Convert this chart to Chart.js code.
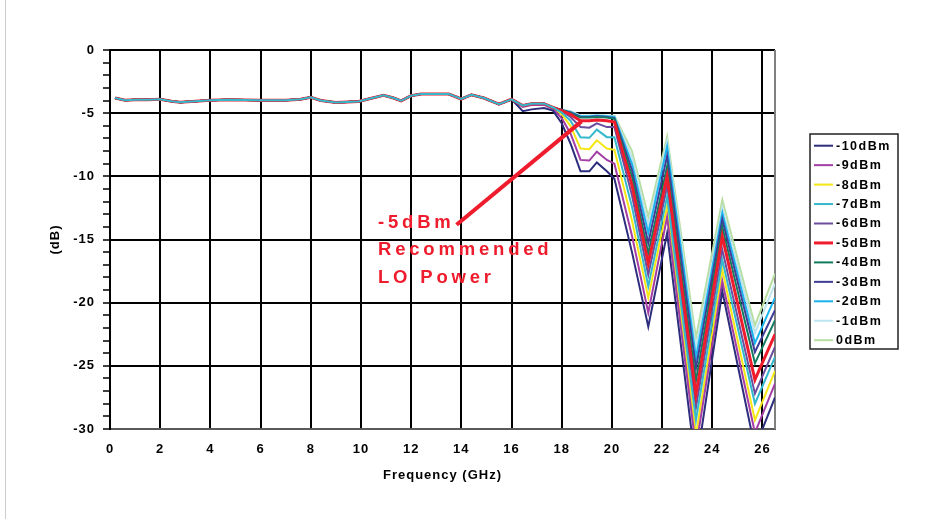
<!DOCTYPE html>
<html lang="en">
<head>
<meta charset="UTF-8">
<title>Conversion loss vs LO power</title>
<script src="https://cdn.jsdelivr.net/npm/chart.js@4.4.1/dist/chart.umd.min.js"></script>
<style>
  html, body { margin: 0; padding: 0; background: #fff; }
  .frame { position: relative; width: 935px; height: 519px; }
  .frame::before { content: ""; position: absolute; left: 5px; top: 0; bottom: 0; border-left: 1px solid #cdcdcd; }
  canvas { display: block; }
</style>
</head>
<body>
<div class="frame"><canvas id="chart"></canvas></div>
<script>
// flat part, all LO levels sit on top of each other here
const lowFreq = [0.2, 0.6, 1.0, 1.5, 2.0, 2.45, 2.8, 3.4, 4.0, 4.7, 5.4, 6.0, 6.5, 7.0, 7.6, 8.0, 8.4, 9.0, 9.9, 10.3, 10.9, 11.3, 11.6, 12.0, 12.4, 13.5, 14.0, 14.4, 14.9, 15.5, 16.0];
const lowLoss = [-3.8, -3.98, -3.93, -3.93, -3.9, -4.05, -4.13, -4.05, -3.98, -3.93, -3.96, -3.98, -3.97, -3.97, -3.9, -3.74, -4.0, -4.15, -4.07, -3.88, -3.59, -3.8, -4.02, -3.62, -3.49, -3.49, -3.88, -3.54, -3.8, -4.28, -3.9];

// upper band, one array per LO level
const highFreq = [16.45, 16.8, 17.3, 17.65, 18.0, 18.35, 18.75, 19.1, 19.4, 19.8, 20.1, 20.8, 21.45, 22.2, 23.35, 24.4, 25.7, 26.5];
const lossM10 = [-4.85, -4.7, -4.6, -4.8, -5.8, -7.4, -9.6, -9.6, -8.9, -9.6, -10.2, -16.0, -21.9, -14.5, -33.0, -19.1, -31.5, -27.5];
const lossM9  = [-4.5, -4.35, -4.35, -4.65, -5.4, -6.6, -8.7, -8.75, -8.05, -8.7, -9.0, -14.7, -20.8, -13.2, -31.5, -18.3, -30.3, -26.4];
const lossM8  = [-4.4, -4.25, -4.25, -4.55, -5.1, -6.0, -7.8, -7.85, -7.15, -7.8, -7.9, -13.5, -19.6, -12.4, -30.5, -17.4, -29.3, -25.4];
const lossM7  = [-4.4, -4.25, -4.25, -4.55, -4.95, -5.6, -6.9, -6.95, -6.3, -6.9, -6.9, -12.4, -18.7, -11.6, -29.3, -16.6, -28.0, -24.3];
const lossM6  = [-4.4, -4.25, -4.25, -4.55, -4.85, -5.3, -6.1, -6.15, -5.8, -6.1, -6.1, -11.5, -17.8, -10.8, -28.3, -15.8, -27.2, -23.5];
const lossM5  = [-4.4, -4.25, -4.25, -4.55, -4.8, -5.1, -5.6, -5.6, -5.55, -5.6, -5.7, -10.7, -16.9, -10.0, -27.3, -14.75, -26.1, -22.5];
const lossM4  = [-4.4, -4.25, -4.25, -4.55, -4.75, -5.0, -5.35, -5.35, -5.3, -5.35, -5.45, -10.0, -16.1, -9.2, -26.2, -14.0, -24.8, -21.4];
const lossM3  = [-4.4, -4.25, -4.25, -4.55, -4.75, -4.95, -5.3, -5.3, -5.25, -5.3, -5.4, -9.5, -15.3, -8.4, -25.2, -13.4, -23.9, -20.6];
const lossM2  = [-4.4, -4.25, -4.25, -4.55, -4.75, -4.9, -5.25, -5.25, -5.2, -5.25, -5.3, -9.0, -14.5, -7.65, -24.4, -12.9, -23.2, -19.6];
const lossM1  = [-4.4, -4.25, -4.25, -4.55, -4.75, -4.85, -5.2, -5.2, -5.15, -5.2, -5.25, -8.5, -13.9, -7.25, -23.6, -12.5, -22.4, -18.5];
const loss0   = [-4.4, -4.25, -4.25, -4.55, -4.75, -4.85, -5.2, -5.2, -5.15, -5.2, -5.2, -8.0, -13.2, -6.85, -22.8, -11.85, -21.8, -17.7];

const loLevels = ['-10dBm', '-9dBm', '-8dBm', '-7dBm', '-6dBm', '-5dBm', '-4dBm', '-3dBm', '-2dBm', '-1dBm', '0dBm'];
const highLoss = [lossM10, lossM9, lossM8, lossM7, lossM6, lossM5, lossM4, lossM3, lossM2, lossM1, loss0];

const yTicks = [0, -5, -10, -15, -20, -25, -30];
const xTicks = [0, 2, 4, 6, 8, 10, 12, 14, 16, 18, 20, 22, 24, 26];

const noteLines = ['-5dBm', 'Recommended', 'LO Power'];
const noteText = [10.68, -14.09];       // where the note text starts (GHz, dB)
const noteArrow = [[13.81, -13.83], [18.79, -5.65]];

const lineColors = ['#2d2d7e', '#a43da6', '#f5e615', '#34b8cc', '#6b4c9e', '#ee1c2c',
                    '#127a5e', '#3f3d98', '#19b4ee', '#bde4ef', '#b8dea2'];
const FONT = '"Liberation Sans", Arial, sans-serif';

const datasets = loLevels.map((name, i) => {
    const pts = lowFreq.map((f, k) => ({x: f, y: lowLoss[k]}))
        .concat(highFreq.map((f, k) => ({x: f, y: highLoss[i][k]})));
    let order = 2;
    if (name === '-7dBm') order = 0;
    if (name === '-5dBm') order = 1;
    return {
        label: name,
        data: pts,
        borderColor: lineColors[i],
        backgroundColor: lineColors[i],
        borderWidth: name === '-5dBm' ? 3 : 2,
        pointRadius: 0,
        tension: 0,
        order: order
    };
});

// old excel-ish wide text
const spacing = {
    id: 'spacing',
    beforeLayout(chart) { chart.ctx.letterSpacing = '1px'; },
    beforeDraw(chart) { chart.ctx.letterSpacing = '1px'; }
};

const plotFrame = {
    id: 'plotFrame',
    beforeDatasetsDraw(chart) {
        const {ctx, chartArea} = chart;
        ctx.save();
        ctx.strokeStyle = '#808080';
        ctx.lineWidth = 2;
        ctx.beginPath();
        ctx.moveTo(chartArea.right, chartArea.top);
        ctx.lineTo(chartArea.right, chartArea.bottom);
        ctx.stroke();
        ctx.restore();
    }
};

const loNote = {
    id: 'loNote',
    afterDatasetsDraw(chart) {
        const {ctx, scales: {x, y}} = chart;
        ctx.save();
        ctx.strokeStyle = '#ee1c2c';
        ctx.lineWidth = 4;
        ctx.beginPath();
        ctx.moveTo(x.getPixelForValue(noteArrow[0][0]), y.getPixelForValue(noteArrow[0][1]));
        ctx.lineTo(x.getPixelForValue(noteArrow[1][0]), y.getPixelForValue(noteArrow[1][1]));
        ctx.stroke();
        ctx.fillStyle = '#ee1c2c';
        ctx.font = 'bold 18.5px ' + FONT;
        ctx.letterSpacing = '3.8px';
        ctx.textAlign = 'left';
        ctx.textBaseline = 'alphabetic';
        const tx = x.getPixelForValue(noteText[0]);
        const ty = y.getPixelForValue(noteText[1]);
        noteLines.forEach((t, i) => ctx.fillText(t, tx, ty + i * 27.4));
        ctx.restore();
    }
};

const sideLegend = {
    id: 'sideLegend',
    afterDraw(chart) {
        const {ctx, chartArea} = chart;
        const left = chartArea.right + 35;
        const top = 134, w = 88, h = 215, rowH = 19.45;
        ctx.save();
        ctx.strokeStyle = '#222';
        ctx.lineWidth = 1.5;
        ctx.strokeRect(left, top, w, h);
        ctx.font = 'bold 12.5px ' + FONT;
        ctx.letterSpacing = '1.5px';
        ctx.textAlign = 'left';
        ctx.textBaseline = 'middle';
        chart.data.datasets.forEach((ds, i) => {
            const yy = top + 11.7 + i * rowH;
            ctx.strokeStyle = ds.borderColor;
            ctx.lineWidth = ds.borderWidth;
            ctx.beginPath();
            ctx.moveTo(left + 4, yy);
            ctx.lineTo(left + 23, yy);
            ctx.stroke();
            ctx.fillStyle = '#000';
            ctx.fillText(ds.label, left + 26, yy + 0.5);
        });
        ctx.restore();
    }
};

new Chart(document.getElementById('chart'), {
    type: 'line',
    data: { datasets: datasets },
    options: {
        responsive: true,
        maintainAspectRatio: false,
        animation: false,
        layout: { padding: { left: 48, right: 160, top: 50, bottom: 36 } },
        plugins: { legend: { display: false }, tooltip: { enabled: false } },
        scales: {
            x: {
                type: 'linear',
                min: 0,
                max: 26.5,
                afterFit(scale) { scale.height = 54; },
                afterBuildTicks(scale) { scale.ticks = xTicks.map(v => ({value: v})); },
                ticks: {
                    autoSkip: false,
                    padding: 13,
                    color: '#000',
                    font: { family: FONT, size: 13, weight: 'bold' }
                },
                grid: { color: '#000', lineWidth: 2, drawTicks: false },
                border: { color: '#5a5a5a', width: 2 },
                title: {
                    display: true,
                    text: 'Frequency (GHz)',
                    color: '#000',
                    padding: { top: 4, bottom: 0 },
                    font: { family: FONT, size: 13, weight: 'bold' }
                }
            },
            y: {
                min: -30,
                max: 0,
                afterFit(scale) { scale.width = 62; },
                ticks: {
                    autoSkip: false,
                    stepSize: 1,
                    padding: 8,
                    color: '#000',
                    font: { family: FONT, size: 13, weight: 'bold' },
                    callback: v => yTicks.includes(v) ? String(v) : ''
                },
                grid: {
                    lineWidth: 2,
                    tickLength: 7,
                    tickWidth: 1.5,
                    tickColor: '#000',
                    color: c => {
                        if (!c.tick) return 'rgba(0,0,0,0)';
                        if (c.tick.value === -30) return '#5a5a5a';
                        return yTicks.includes(c.tick.value) ? '#000' : 'rgba(0,0,0,0)';
                    }
                },
                border: { color: '#000', width: 2 },
                title: {
                    display: true,
                    text: '(dB)',
                    color: '#000',
                    padding: { top: 0, bottom: 4 },
                    font: { family: FONT, size: 13, weight: 'bold' }
                }
            }
        }
    },
    plugins: [spacing, plotFrame, loNote, sideLegend]
});
</script>
</body>
</html>
